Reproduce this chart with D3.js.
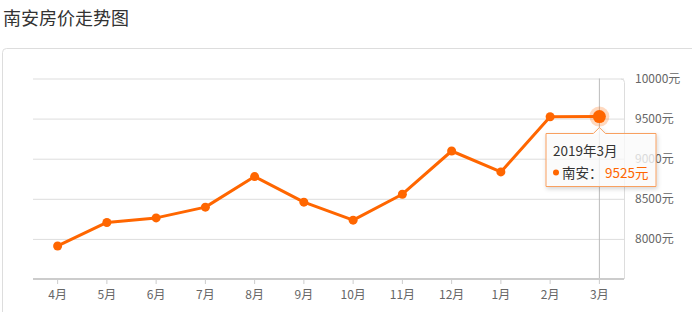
<!DOCTYPE html>
<html>
<head>
<meta charset="utf-8">
<script src="https://cdn.jsdelivr.net/npm/d3@7"></script>
<style>
	body { margin: 0; background: #fff; font-family: "Noto Sans CJK SC", "Noto Sans", sans-serif; }
	svg { display: block; }
</style>
</head>
<body>
<svg></svg>
<script>
const months = ['4月', '5月', '6月', '7月', '8月', '9月', '10月', '11月', '12月', '1月', '2月', '3月'];
const prices = [7912, 8205, 8262, 8396, 8777, 8458, 8234, 8557, 9096, 8835, 9523, 9525];
const yTicks = [8000, 8500, 9000, 9500, 10000];
const seriesName = '南安';
const tipTitle = '2019年3月';

const width = 692;
const height = 312;
const margin = { top: 78.5, right: 68, bottom: 33, left: 33 };
const innerWidth = width - margin.left - margin.right;
const innerHeight = height - margin.top - margin.bottom;
const orange = '#f60';

const svg = d3.select('svg')
	.attr('width', width)
	.attr('height', height);

svg.append('text')
	.attr('x', 3)
	.attr('y', 25)
	.attr('font-size', 18)
	.attr('fill', '#333')
	.text('南安房价走势图');

// outer panel
svg.append('rect')
	.attr('x', 2.5)
	.attr('y', 48.5)
	.attr('width', 720)
	.attr('height', 300)
	.attr('rx', 4)
	.attr('fill', 'none')
	.attr('stroke', '#ddd');

const xScale = d3.scaleBand()
	.domain(months)
	.range([0, innerWidth]);

const yScale = d3.scaleLinear()
	.domain([7500, 10000])
	.range([innerHeight, 0]);

const xPos = d => xScale(d) + xScale.bandwidth() / 2;

const g = svg.append('g')
	.attr('transform', `translate(${margin.left},${margin.top})`);

// grid
const yAxis = d3.axisRight(yScale)
	.tickValues(yTicks)
	.tickSize(-innerWidth)
	.tickFormat(d => d + '元');

const yAxisGroup = g.append('g')
	.attr('transform', `translate(${innerWidth},0)`)
	.call(yAxis);
yAxisGroup.select('.domain').remove();
yAxisGroup.selectAll('line').attr('stroke', '#ddd');
yAxisGroup.selectAll('text')
	.attr('x', 11)
	.attr('font-size', 12)
	.attr('font-family', '"Noto Sans CJK SC", sans-serif')
	.attr('fill', '#666');

// right border with rounded corner
g.append('path')
	.attr('d', `M${innerWidth - 3},0.5 Q${innerWidth + 0.5},0.5 ${innerWidth + 0.5},4 L${innerWidth + 0.5},${innerHeight}`)
	.attr('fill', 'none')
	.attr('stroke', '#ddd');

// crosshair
g.append('line')
	.attr('x1', xPos('3月'))
	.attr('x2', xPos('3月'))
	.attr('y1', 0)
	.attr('y2', innerHeight)
	.attr('stroke', '#bbb');

const xAxis = d3.axisBottom(xScale)
	.tickSize(5)
	.tickPadding(6);

const xAxisGroup = g.append('g')
	.attr('transform', `translate(0,${innerHeight})`)
	.call(xAxis);
xAxisGroup.select('.domain')
	.attr('stroke', '#ccc')
	.attr('stroke-width', 2)
	.attr('d', `M0,0H${innerWidth}`);
xAxisGroup.selectAll('.tick line').attr('stroke', '#ccc');
xAxisGroup.selectAll('text')
	.attr('font-size', 12)
	.attr('font-family', '"Noto Sans CJK SC", sans-serif')
	.attr('fill', '#666');

const data = months.map((m, i) => ({ month: m, price: prices[i] }));

const line = d3.line()
	.x(d => xPos(d.month))
	.y(d => yScale(d.price));

g.append('path')
	.datum(data)
	.attr('d', line)
	.attr('fill', 'none')
	.attr('stroke', orange)
	.attr('stroke-width', 3)
	.attr('stroke-linejoin', 'round');

g.selectAll('circle.pt').data(data.slice(0, -1))
	.enter().append('circle')
		.attr('class', 'pt')
		.attr('r', 4.5)
		.attr('cx', d => xPos(d.month))
		.attr('cy', d => yScale(d.price))
		.attr('fill', orange);

const last = data[data.length - 1];
const lx = xPos(last.month);
const ly = yScale(last.price);
g.append('circle')
	.attr('cx', lx).attr('cy', ly).attr('r', 10)
	.attr('fill', orange).attr('fill-opacity', 0.25);
g.append('circle')
	.attr('cx', lx).attr('cy', ly).attr('r', 6.5)
	.attr('fill', orange);

// tooltip
const defs = svg.append('defs');
const f = defs.append('filter').attr('id', 'sh').attr('x', -0.2).attr('y', -0.2).attr('width', 1.4).attr('height', 1.5);
f.append('feDropShadow').attr('dx', 1).attr('dy', 2).attr('stdDeviation', 2).attr('flood-color', '#000').attr('flood-opacity', 0.2);

const tipX = 546 - margin.left, tipY = 133.5 - margin.top, tipW = 110, tipH = 53;
const ax = lx;
g.append('path')
	.attr('d', `M${tipX},${tipY} H${ax - 6} L${ax},${tipY - 6} L${ax + 6},${tipY} H${tipX + tipW} V${tipY + tipH} H${tipX} Z`)
	.attr('fill', '#fff')
	.attr('fill-opacity', 0.75)
	.attr('stroke', '#f8a060')
	.attr('filter', 'url(#sh)');

g.append('text')
	.attr('x', tipX + 7)
	.attr('y', tipY + 22)
	.attr('font-size', 13.5)
	.attr('fill', '#333')
	.text(tipTitle);
g.append('circle')
	.attr('cx', tipX + 10)
	.attr('cy', tipY + 39)
	.attr('r', 3)
	.attr('fill', orange);
g.append('text')
	.attr('x', tipX + 16)
	.attr('y', tipY + 44)
	.attr('font-size', 13.5)
	.attr('fill', '#333')
	.text(seriesName + '：');
g.append('text')
	.attr('x', tipX + 59)
	.attr('y', tipY + 44)
	.attr('font-size', 13.5)
	.attr('fill', orange)
	.text(last.price + '元');
</script>
</body>
</html>
